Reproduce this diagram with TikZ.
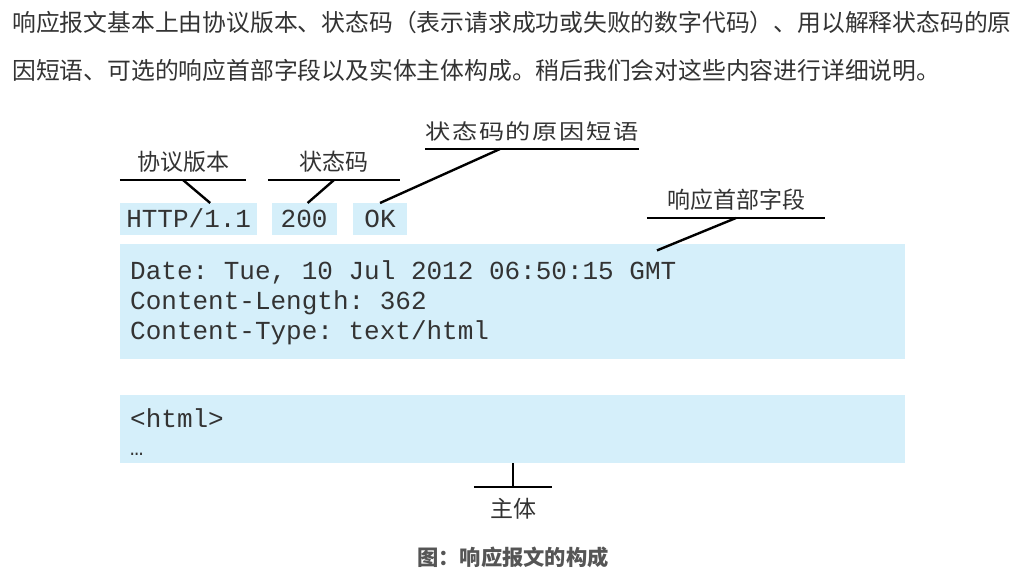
\documentclass[tikz,border=0pt]{standalone}
\usepackage{fontspec}
\usepackage{xcolor}
\setmainfont{Noto Sans CJK SC}
\setmonofont{Liberation Mono}
\newfontfamily\widecjk[FakeStretch=1.2, LetterSpace=8]{Noto Sans CJK SC}
\usepackage{tikz}
\usetikzlibrary{positioning,calc}
\definecolor{ink}{HTML}{333333}
\definecolor{skyfill}{HTML}{D5EFFA}
\definecolor{capgray}{HTML}{555555}

\begin{document}
\begin{tikzpicture}[x=1pt, y=-1pt,
  ln/.style={line width=2.4pt},
  fld/.style={fill=skyfill, inner sep=0pt, font=\ttfamily\fontsize{26}{30}\selectfont, text=ink, text height=16pt, text depth=0pt},
  code/.style={font=\ttfamily\fontsize{26}{30}\selectfont, text=ink, anchor=base west, inner sep=0pt},
  lbl/.style={font=\fontsize{23}{23}\selectfont, text=ink, anchor=south, text height=18pt, text depth=0pt, inner xsep=0pt, inner ysep=9pt},
  para/.style={font=\fontsize{23.8}{23.8}\selectfont, text=ink, anchor=west, inner sep=0pt}]
\useasboundingbox (0,0) rectangle (1031,579);

% intro text
\node[para] (intro1) at (12,22) {响应报文基本上由协议版本、状态码（表示请求成功或失败的数字代码）、用以解释状态码的原};
\node[para] (intro2) at (12,70) {因短语、可选的响应首部字段以及实体主体构成。稍后我们会对这些内容进行详细说明。};

% status line
\node[fld, anchor=north west, minimum width=137, minimum height=32] (ver) at (120,203) {HTTP/1.1};
\node[fld, minimum width=65, minimum height=32, right=14pt of ver] (status) {200};
\node[fld, minimum width=54, minimum height=32, right=16pt of status] (ok) {OK};

% header and body
\node[fld, minimum width=785, minimum height=115, below=8pt of ver.south west, anchor=north west] (hdr) {};
\node[fld, minimum width=785, minimum height=68, below=36pt of hdr.south west, anchor=north west] (body) {};
\node[code] (date) at ($(hdr.north west)+(10,36)$) {Date: Tue, 10 Jul 2012 06:50:15 GMT};
\node[code] (clen) at ($(hdr.north west)+(10,66)$) {Content-Length: 362};
\node[code] (ctype) at ($(hdr.north west)+(10,96)$) {Content-Type: text/html};
\node[code] (html) at ($(body.north west)+(10,33)$) {<html>};
\node[code, font=\ttfamily\fontsize{22}{22}\selectfont] (dots) at ($(body.north west)+(10,61)$) {…};

% labels
\node[lbl, minimum width=206, font=\widecjk\fontsize{21}{21}\selectfont] (reasonlbl) at (532,149) {状态码的原因短语};
\node[lbl, minimum width=126] (verlbl) at (183,180) {协议版本};
\node[lbl, minimum width=132] (statuslbl) at (334,180) {状态码};
\node[lbl, minimum width=178] (hdrlbl) at (736,218) {响应首部字段};
\node[lbl, anchor=north, minimum width=78, inner ysep=12pt] (bodylbl) at (513,487) {主体};

% underlines
\draw[ln] (verlbl.south west) -- (verlbl.south east);
\draw[ln] (statuslbl.south west) -- (statuslbl.south east);
\draw[ln] (reasonlbl.south west) -- (reasonlbl.south east);
\draw[ln] (hdrlbl.south west) -- (hdrlbl.south east);
\draw[ln] (bodylbl.north west) -- (bodylbl.north east);

% leaders
\coordinate (hdrtip) at ($(hdr.north west)+(537,7)$);
\draw[ln] (verlbl.south) -- ([xshift=21.5pt]ver.north);
\draw[ln] (statuslbl.south) -- ([xshift=3.5pt]status.north);
\draw[ln] ([xshift=-32pt]reasonlbl.south) -- (ok.north);
\draw[ln] (hdrlbl.south) -- (hdrtip);
\draw[ln] (bodylbl.north) -- (bodylbl.north |- body.south);

% caption
\node[font=\bfseries\fontsize{21.3}{21.3}\selectfont, text=capgray] (caption) at (513,557) {图：响应报文的构成};
\end{tikzpicture}
\end{document}
